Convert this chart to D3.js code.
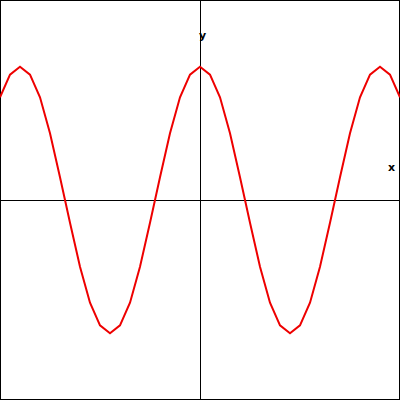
<!DOCTYPE html>
<html><head><meta charset="utf-8">
<script src="https://cdn.jsdelivr.net/npm/d3@7"></script>
<style>body{margin:0;background:#fff}svg{display:block}</style>
</head><body>
<svg id="chart" width="400" height="400"></svg>
<script>
// sample points
var xs = [-10,-9.5,-9,-8.5,-8,-7.5,-7,-6.5,-6,-5.5,-5,-4.5,-4,-3.5,-3,-2.5,-2,-1.5,-1,-0.5,
          0,0.5,1,1.5,2,2.5,3,3.5,4,4.5,5,5.5,6,6.5,7,7.5,8,8.5,9,9.5,10];
var ys = [0.77,0.94,1,0.94,0.77,0.5,0.17,-0.17,-0.5,-0.77,-0.94,-1,-0.94,-0.77,-0.5,-0.17,0.17,0.5,0.77,0.94,
          1,0.94,0.77,0.5,0.17,-0.17,-0.5,-0.77,-0.94,-1,-0.94,-0.77,-0.5,-0.17,0.17,0.5,0.77,0.94,1,0.94,0.77];

var svg = d3.select("#chart");
var x = d3.scaleLinear().domain([-10, 10]).range([0, 400]);
var y = d3.scaleLinear().domain([-1.5, 1.5]).range([400, 0]);

svg.append("rect").attr("x", 0.5).attr("y", 0.5).attr("width", 399).attr("height", 399)
  .attr("fill", "none").attr("stroke", "#000");

svg.append("line").attr("x1", 0).attr("x2", 400).attr("y1", y(0) + 0.5).attr("y2", y(0) + 0.5)
  .attr("stroke", "#000");
svg.append("line").attr("y1", 0).attr("y2", 400).attr("x1", x(0) + 0.5).attr("x2", x(0) + 0.5)
  .attr("stroke", "#000");

svg.append("text").attr("x", 199).attr("y", 39).text("y")
  .style("font", "bold 11px 'DejaVu Sans'");
svg.append("text").attr("x", 388).attr("y", 171).text("x")
  .style("font", "bold 11px 'DejaVu Sans'");

var line = d3.line().x(function (d, i) { return x(xs[i]); }).y(function (d) { return y(d); });
svg.append("path").datum(ys).attr("d", line)
  .attr("fill", "none").attr("stroke", "#e00").attr("stroke-width", 2);
</script>
</body></html>
